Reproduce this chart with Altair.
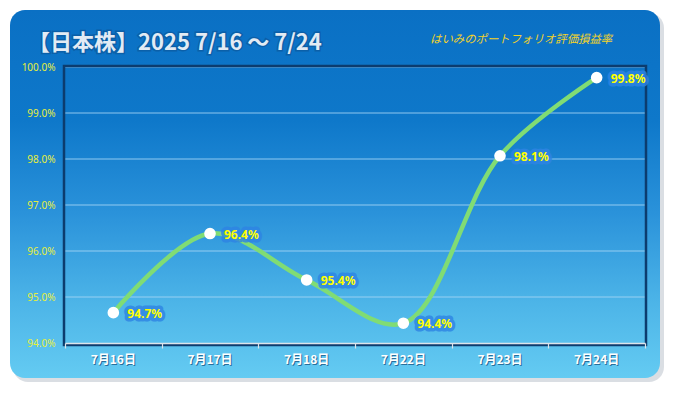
import altair as alt
import pandas as pd

# ---- data ----
dates = ["7月16日", "7月17日", "7月18日", "7月22日", "7月23日", "7月24日"]
values = [94.66, 96.38, 95.37, 94.43, 98.07, 99.77]
y_ticks = [94, 95, 96, 97, 98, 99, 100]
x_bounds = [-0.5, 0.5, 1.5, 2.5, 3.5, 4.5, 5.5]
title_text = "【日本株】2025 7/16 〜 7/24"
subtitle_text = "はいみのポートフォリオ評価損益率"

df = pd.DataFrame({
    "idx": list(range(len(dates))),
    "date": dates,
    "value": values,
    "label": [f"{v:.1f}%" for v in values],
})
grid_df = pd.DataFrame({"v": y_ticks[1:]})

W, H = 580, 276
JP = "Noto Sans CJK JP"

xs = alt.Scale(domain=[-0.5, 5.5], nice=False, zero=False)
ys = alt.Scale(domain=[94, 100], nice=False, zero=False)

x_axis = alt.Axis(values=x_bounds, labels=False, title=None, grid=False,
                  domainColor="#dde4ea", domainWidth=1.5, tickColor="#dde4ea",
                  tickWidth=1.2, tickSize=5, zindex=1)
y_axis = alt.Axis(values=y_ticks, title=None, grid=False, domain=False, ticks=False,
                  labelExpr="format(datum.value, '.1f') + '%'",
                  labelColor="#e6ef3c", labelFontSize=10, labelFont="Noto Sans",
                  labelPadding=10, zindex=1)

one = alt.Data(values=[{}])

shadow = alt.Chart(one).mark_rect(color="#d3d8de", cornerRadius=15, opacity=0.85).encode(
    x=alt.value(-52), x2=alt.value(599), y=alt.value(-54), y2=alt.value(315))

panel = alt.Chart(one).mark_rect(
    cornerRadius=15,
    color=alt.Gradient(
        gradient="linear", x1=0, x2=0, y1=0, y2=1,
        stops=[alt.GradientStop(offset=0, color="#0a70c4"),
               alt.GradientStop(offset=0.3, color="#0e78ca"),
               alt.GradientStop(offset=0.55, color="#2a92da"),
               alt.GradientStop(offset=0.8, color="#4db5e8"),
               alt.GradientStop(offset=1, color="#64cbf2")])
).encode(x=alt.value(-55), x2=alt.value(595), y=alt.value(-57), y2=alt.value(311))

frame = alt.Chart(one).mark_rect(fillOpacity=0, stroke="#0c3c6e", strokeWidth=2.5).encode(
    x=alt.value(-1), x2=alt.value(W + 1), y=alt.value(-1), y2=alt.value(H + 2))

grid = alt.Chart(grid_df).mark_rule(color="#a6d6f6", strokeWidth=1, opacity=0.85).encode(
    y=alt.Y("v:Q", scale=ys, axis=y_axis), x=alt.value(0), x2=alt.value(W))

line = alt.Chart(df).mark_line(interpolate="catmull-rom", color="#80dc74", strokeWidth=4.5).encode(
    x=alt.X("idx:Q", scale=xs, axis=x_axis),
    y=alt.Y("value:Q", scale=ys, axis=y_axis))

points = alt.Chart(df).mark_circle(size=135, color="white", opacity=1).encode(
    x=alt.X("idx:Q", scale=xs, axis=x_axis),
    y=alt.Y("value:Q", scale=ys, axis=y_axis))

glow = alt.Chart(df).mark_text(
    align="left", baseline="middle", dx=14, dy=1, fontSize=12, fontWeight="bold",
    font="Noto Sans", color="#2e84e4", stroke="#2e84e4", strokeWidth=7,
    strokeJoin="round", opacity=0.8
).encode(x=alt.X("idx:Q", scale=xs), y=alt.Y("value:Q", scale=ys), text="label:N")

labels = alt.Chart(df).mark_text(
    align="left", baseline="middle", dx=14, dy=1, fontSize=12, fontWeight="bold",
    font="Noto Sans", color="#ffff00"
).encode(x=alt.X("idx:Q", scale=xs), y=alt.Y("value:Q", scale=ys), text="label:N")

xlab_shadow = alt.Chart(df).mark_text(
    align="center", baseline="middle", dx=1, dy=1, fontSize=12, fontWeight="bold",
    font=JP, color="#1b5a88", opacity=0.8
).encode(x=alt.X("idx:Q", scale=xs), y=alt.value(H + 17), text="date:N")

xlab = alt.Chart(df).mark_text(
    align="center", baseline="middle", fontSize=12, fontWeight="bold",
    font=JP, color="white"
).encode(x=alt.X("idx:Q", scale=xs), y=alt.value(H + 17), text="date:N")

title_shadow = alt.Chart(one).mark_text(
    align="left", baseline="middle", fontSize=22, fontWeight="bold", font=JP,
    color="#0b5496", stroke="#0b5496", strokeWidth=3, opacity=0.6, text=title_text
).encode(x=alt.value(-37), y=alt.value(-24))

title = alt.Chart(one).mark_text(
    align="left", baseline="middle", fontSize=22, fontWeight="bold", font=JP,
    color="#e2ebf4", text=title_text
).encode(x=alt.value(-37), y=alt.value(-24))

subtitle = alt.Chart(one).mark_text(
    align="left", baseline="middle", fontSize=11.4, fontStyle="italic", font=JP,
    color="#f2d22a", text=subtitle_text
).encode(x=alt.value(365), y=alt.value(-27))

chart = alt.layer(
    shadow, panel, grid, frame, line, points, glow, labels,
    xlab_shadow, xlab, title_shadow, title, subtitle
).properties(
    width=W, height=H,
    padding={"left": 57, "top": 59, "right": 20, "bottom": 40},
    autosize=alt.AutoSizeParams(type="none"),
    background="white",
).configure_view(stroke=None)

chart.save("out.html", embed_options={"renderer": "svg", "actions": False})
